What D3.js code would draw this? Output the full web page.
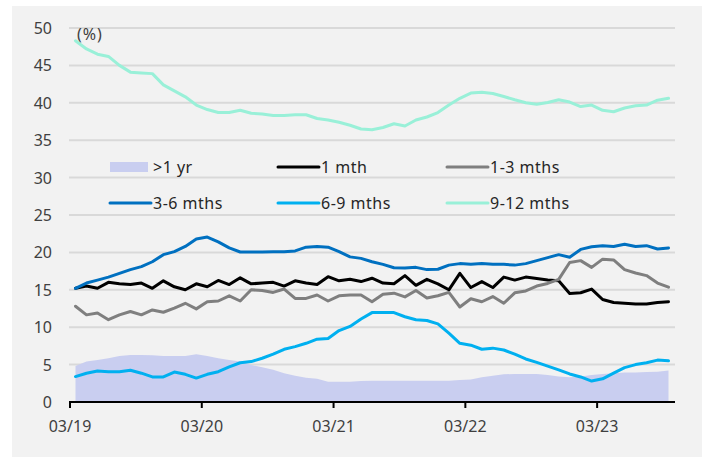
<!DOCTYPE html>
<html>
    <head>
        <script src="https://d3js.org/d3.v7.min.js"></script>
        <style>
        body { margin: 0; background: white; }
        text { font-family: "Noto Sans", "Open Sans", sans-serif; }
        .grid { stroke: #d9d9d9; stroke-width: 2px; }
        .series { fill: none; stroke-width: 3px; stroke-linejoin: round; stroke-linecap: round; }
        </style>
    </head>
    <body>
        <svg id="chart" width=708 height=457></svg>
        <script>
            // monthly, 03/19 .. 09/23
            const months = d3.range(55).map(i => {
                const m = (2 + i) % 12 + 1;
                const y = 19 + Math.floor((2 + i) / 12);
                return d3.format("02")(m) + "/" + y;
            });
            const tickLabels = ["03/19", "03/20", "03/21", "03/22", "03/23"];
            const yTicks = [0, 5, 10, 15, 20, 25, 30, 35, 40, 45, 50];

            const overOneYear = [4.8, 5.4, 5.6, 5.85, 6.15, 6.3, 6.3, 6.25, 6.15, 6.15,
                6.15, 6.4, 6.15, 5.85, 5.6, 5.4, 4.95, 4.65, 4.3, 3.85,
                3.5, 3.25, 3.1, 2.7, 2.7, 2.7, 2.8, 2.85, 2.85, 2.85,
                2.85, 2.85, 2.85, 2.85, 2.85, 2.95, 3.0, 3.3, 3.5, 3.7,
                3.75, 3.75, 3.75, 3.6, 3.4, 3.3, 3.4, 3.6, 3.75, 3.85,
                3.95, 3.95, 4.0, 4.05, 4.2];
            const oneMth = [15.2, 15.5, 15.2, 16.0, 15.8, 15.7, 15.9, 15.2, 16.2, 15.4,
                15.0, 15.8, 15.4, 16.25, 15.7, 16.6, 15.8, 15.9, 16.0, 15.5,
                16.2, 15.9, 15.7, 16.75, 16.2, 16.4, 16.1, 16.55, 15.9, 15.8,
                16.9, 15.6, 16.4, 15.8, 15.0, 17.2, 15.3, 16.1, 15.3, 16.7,
                16.3, 16.7, 16.5, 16.3, 16.2, 14.5, 14.6, 15.1, 13.7, 13.3,
                13.2, 13.1, 13.1, 13.3, 13.4];
            const oneToThree = [12.8, 11.65, 11.9, 11.0, 11.65, 12.1, 11.65, 12.3, 12.0, 12.55,
                13.2, 12.45, 13.4, 13.5, 14.2, 13.5, 15.0, 14.9, 14.65, 15.1,
                13.85, 13.85, 14.3, 13.5, 14.2, 14.3, 14.3, 13.4, 14.4, 14.55,
                14.05, 14.9, 13.9, 14.2, 14.65, 12.7, 13.8, 13.4, 14.1, 13.2,
                14.6, 14.85, 15.5, 15.85, 16.4, 18.65, 18.9, 18.0, 19.1, 19.0,
                17.7, 17.25, 16.9, 15.9, 15.35];
            const threeToSix = [15.2, 15.9, 16.3, 16.7, 17.2, 17.7, 18.1, 18.75, 19.7, 20.1,
                20.8, 21.8, 22.05, 21.4, 20.6, 20.05, 20.05, 20.05, 20.1, 20.1,
                20.2, 20.7, 20.8, 20.7, 20.1, 19.4, 19.2, 18.75, 18.4, 17.95,
                17.9, 18.0, 17.7, 17.75, 18.3, 18.5, 18.4, 18.5, 18.4, 18.4,
                18.3, 18.5, 18.9, 19.3, 19.7, 19.35, 20.4, 20.75, 20.9, 20.8,
                21.1, 20.8, 20.9, 20.45, 20.6];
            const sixToNine = [3.4, 3.85, 4.15, 4.05, 4.05, 4.25, 3.85, 3.35, 3.35, 4.0,
                3.7, 3.2, 3.7, 4.05, 4.7, 5.25, 5.4, 5.85, 6.4, 7.05,
                7.4, 7.85, 8.4, 8.5, 9.55, 10.1, 11.1, 11.95, 11.95, 11.95,
                11.4, 11.0, 10.9, 10.45, 9.2, 7.85, 7.6, 7.05, 7.2, 6.95,
                6.4, 5.75, 5.3, 4.8, 4.3, 3.75, 3.35, 2.8, 3.1, 3.85,
                4.6, 5.0, 5.25, 5.6, 5.5];
            const nineToTwelve = [48.3, 47.2, 46.5, 46.2, 45.0, 44.1, 44.0, 43.9, 42.4, 41.6,
                40.8, 39.7, 39.1, 38.7, 38.7, 39.0, 38.6, 38.5, 38.3, 38.3,
                38.4, 38.4, 37.9, 37.7, 37.4, 37.0, 36.5, 36.4, 36.7, 37.2,
                36.9, 37.7, 38.1, 38.7, 39.7, 40.6, 41.3, 41.4, 41.25, 40.85,
                40.4, 40.0, 39.8, 40.05, 40.4, 40.1, 39.5, 39.7, 39.0, 38.8,
                39.3, 39.6, 39.7, 40.35, 40.6];

            const lines = [
                {name: "1 mth", values: oneMth, color: "#000000"},
                {name: "1-3 mths", values: oneToThree, color: "#7f7f7f"},
                {name: "3-6 mths", values: threeToSix, color: "#0070c0"},
                {name: "6-9 mths", values: sixToNine, color: "#00b0f0"},
                {name: "9-12 mths", values: nineToTwelve, color: "#99f0d8"}
            ];

            const svg = d3.select("svg#chart");

            // grey panel behind everything
            svg.append("rect")
               .attr("x", 12).attr("y", 6)
               .attr("width", 690).attr("height", 451)
               .attr("fill", "#f2f2f2");

            const x = d3.scaleBand().domain(months).range([70, 674]);
            const y = d3.scaleLinear().domain([0, 50]).range([402, 28]);
            const cx = d => x(d) + x.bandwidth() / 2;

            // gridlines
            svg.selectAll("line.grid").data(yTicks.slice(1))
               .join("line")
               .attr("class", "grid")
               .attr("x1", 69).attr("x2", 675)
               .attr("y1", d => y(d)).attr("y2", d => y(d));

            // y labels
            svg.selectAll("text.ylab").data(yTicks)
               .join("text")
               .attr("class", "ylab")
               .attr("x", 52)
               .attr("y", d => y(d) + 6)
               .attr("text-anchor", "end")
               .attr("font-size", 16)
               .attr("fill", "#404040")
               .text(d => d);

            svg.append("text")
               .attr("x", 77).attr("y", 40)
               .attr("font-size", 16)
               .attr("letter-spacing", 1)
               .attr("fill", "#404040")
               .text("(%)");

            // >1 yr area
            const area = d3.area()
                           .x((d, i) => cx(months[i]))
                           .y0(y(0))
                           .y1(d => y(d));
            svg.append("path").datum(overOneYear)
               .attr("d", area)
               .attr("fill", "#c9cef0");

            // the five lines
            const line = d3.line()
                           .x((d, i) => cx(months[i]))
                           .y(d => y(d));
            svg.selectAll("path.series").data(lines)
               .join("path")
               .attr("class", "series")
               .attr("stroke", d => d.color)
               .attr("d", d => line(d.values));

            // x axis
            const xAxis = d3.axisBottom(x)
                            .tickValues(tickLabels)
                            .tickSize(6)
                            .tickSizeOuter(0);
            const gx = svg.append("g")
                          .attr("transform", "translate(0,402)")
                          .call(xAxis);
            gx.select(".domain").remove();
            gx.append("line")
              .attr("x1", 69).attr("x2", 675)
              .attr("stroke", "black").attr("stroke-width", 2);
            gx.selectAll(".tick")
              .attr("transform", d => `translate(${x(d)},0)`);
            gx.selectAll(".tick line").attr("stroke", "black").attr("stroke-width", 2);
            gx.selectAll(".tick text")
              .attr("y", 30)
              .attr("dy", null)
              .attr("font-size", 16)
              .attr("fill", "#404040")
              .attr("font-family", "Noto Sans, Open Sans, sans-serif");

            // legend, two rows of three
            const legendItems = [
                {name: ">1 yr", color: "#c9cef0", area: true},
                lines[0], lines[1], lines[2], lines[3], lines[4]
            ];
            const colX = [110, 278, 447];
            const rowY = [167, 203];
            const legend = svg.selectAll("g.legend").data(legendItems)
                              .join("g")
                              .attr("class", "legend")
                              .attr("transform", (d, i) => `translate(${colX[i % 3]},${rowY[Math.floor(i / 3)]})`);
            legend.filter(d => d.area)
                  .append("rect")
                  .attr("x", 0).attr("y", -5)
                  .attr("width", 38).attr("height", 10)
                  .attr("fill", d => d.color);
            legend.filter(d => !d.area)
                  .append("line")
                  .attr("x1", 0).attr("x2", 41)
                  .attr("stroke", d => d.color)
                  .attr("stroke-width", 3)
                  .attr("stroke-linecap", "round");
            legend.append("text")
                  .attr("x", 43).attr("y", 6)
                  .attr("font-size", 16)
                  .attr("letter-spacing", 0.5)
                  .attr("fill", "#262626")
                  .text(d => d.name);
        </script>
    </body>
</html>
